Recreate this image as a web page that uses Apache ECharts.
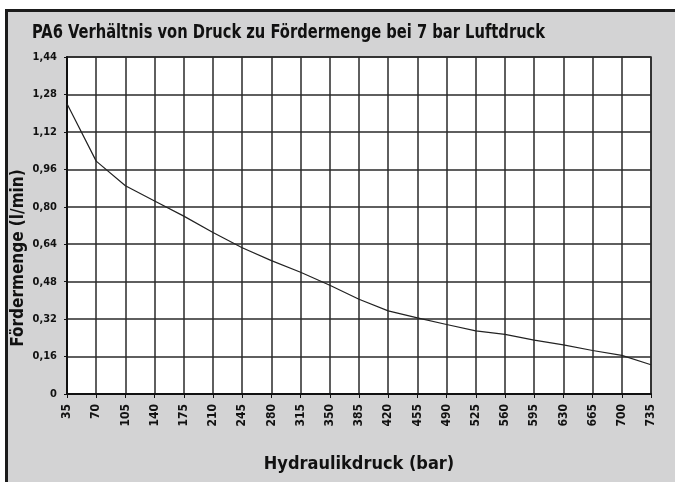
<!DOCTYPE html>
<html>
<head>
<meta charset="utf-8">
<script src="https://cdn.jsdelivr.net/npm/echarts@6/dist/echarts.min.js"></script>
<style>
  html, body { margin: 0; padding: 0; background: #fff; }
  #frame {
    position: absolute; left: 5px; top: 9px; width: 700px; height: 500px;
    background: #d3d3d4; border: 3px solid #1b1b1b;
  }
  #chart { position: absolute; left: 0; top: 0; width: 675px; height: 482px; }
</style>
</head>
<body>
<div id="frame"></div>
<div id="chart"></div>
<script>
// Hydraulic pressure (bar) on x, flow rate (l/min) on y
const pressure = [35, 70, 105, 140, 175, 210, 245, 280, 315, 350, 385, 420, 455, 490, 525, 560, 595, 630, 665, 700, 735];
const flow = [1.24, 0.995, 0.89, 0.825, 0.76, 0.69, 0.625, 0.57, 0.52, 0.465, 0.405, 0.355, 0.325, 0.297, 0.27, 0.255, 0.23, 0.21, 0.186, 0.165, 0.125];
const yTickLabels = ["0", "0,16", "0,32", "0,48", "0,64", "0,80", "0,96", "1,12", "1,28", "1,44"];

const FONT = "'Liberation Sans Narrow', 'DejaVu Sans Condensed', sans-serif";

const chart = echarts.init(document.getElementById("chart"), null, { renderer: "canvas" });

chart.setOption({
  backgroundColor: "transparent",
  animation: false,
  // title and y-axis name as graphic text so they can be squeezed / placed like the original
  graphic: [
    {
      type: "text",
      x: 32,
      y: 33,
      scaleX: 0.86,
      style: {
        text: "PA6 Verhältnis von Druck zu Fördermenge bei 7 bar Luftdruck",
        font: "bold 19px " + FONT,
        fill: "#111",
        align: "left",
        verticalAlign: "middle",
      },
    },
    {
      type: "text",
      x: 19,
      y: 258,
      rotation: Math.PI / 2,
      style: {
        text: "Fördermenge (l/min)",
        font: "bold 17px " + FONT,
        fill: "#111",
        align: "center",
        verticalAlign: "middle",
      },
    },
  ],
  grid: {
    left: 67, right: 24, top: 57, bottom: 88,
    show: true,
    backgroundColor: "#fff",
    borderColor: "#222",
    borderWidth: 1.5,
  },
  xAxis: {
    type: "value",
    min: 35,
    max: 735,
    interval: 35,
    name: "Hydraulikdruck (bar)",
    nameLocation: "middle",
    nameGap: 61,
    nameTextStyle: { fontFamily: FONT, fontWeight: "bold", fontSize: 18, color: "#111" },
    axisLine: { show: true, onZero: false, lineStyle: { color: "#111", width: 2 } },
    axisTick: { show: true, length: 4, lineStyle: { color: "#111", width: 1 } },
    axisLabel: {
      rotate: 90,
      margin: 10,
      fontFamily: FONT,
      fontWeight: "bold",
      fontSize: 12,
      color: "#111",
      showMinLabel: true,
      showMaxLabel: true,
    },
    splitLine: { show: true, lineStyle: { color: "#2a2a2a", width: 1.5 } },
  },
  yAxis: {
    type: "value",
    min: 0,
    max: 1.44,
    interval: 0.16,
    axisLine: { show: true, lineStyle: { color: "#111", width: 2 } },
    axisTick: { show: true, length: 3, lineStyle: { color: "#111" } },
    axisLabel: {
      margin: 10,
      fontFamily: FONT,
      fontWeight: "bold",
      fontSize: 11,
      color: "#111",
      formatter: (v) => yTickLabels[Math.round(v / 0.16)],
    },
    splitLine: { show: true, lineStyle: { color: "#2a2a2a", width: 1.5 } },
  },
  series: [
    {
      type: "line",
      data: pressure.map((p, i) => [p, flow[i]]),
      showSymbol: false,
      lineStyle: { color: "#222", width: 1.2 },
      z: 5,
    },
  ],
});
</script>
</body>
</html>
